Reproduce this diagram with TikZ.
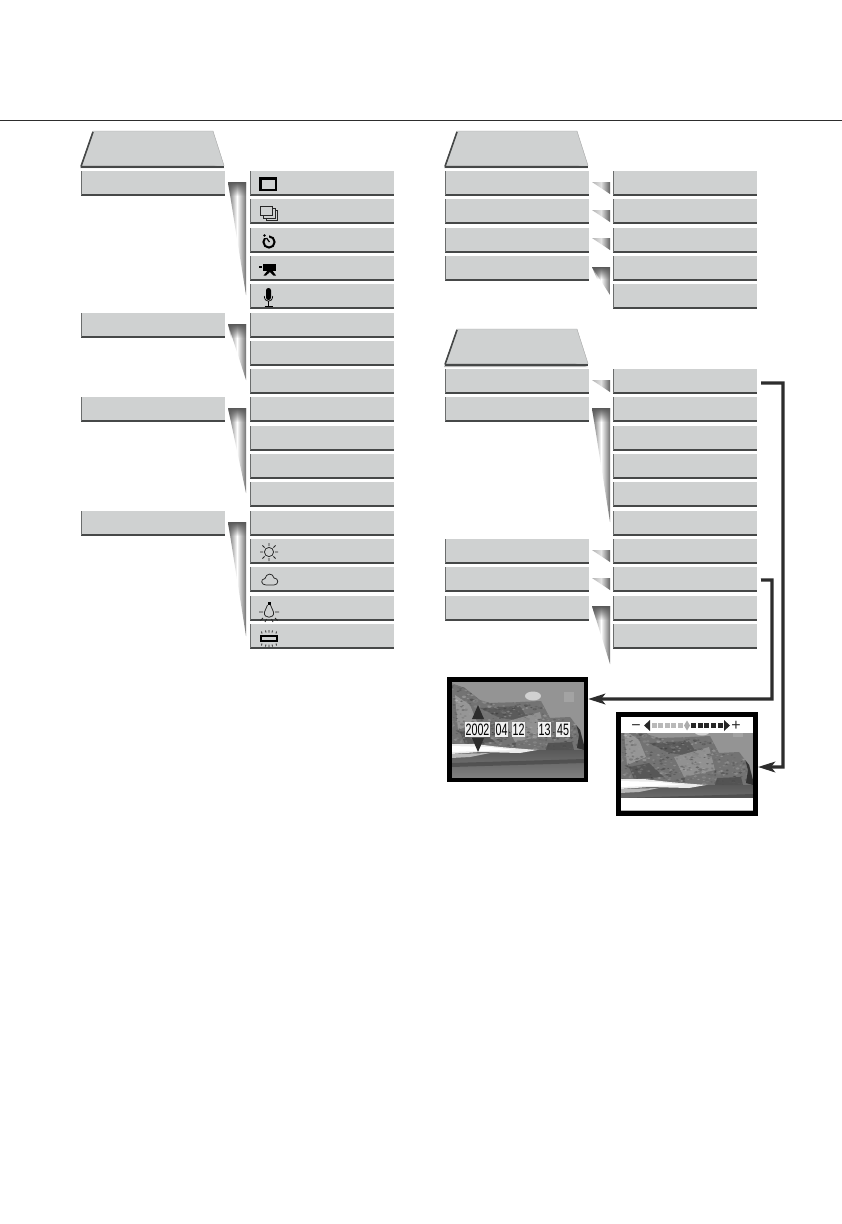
\documentclass[tikz,border=0pt]{standalone}
\usepackage{fontspec}
\setmainfont{Liberation Sans}
\usetikzlibrary{arrows.meta,shadows,fadings}
\definecolor{boxgray}{RGB}{207,209,209}
\definecolor{edgegray}{RGB}{70,72,72}
\definecolor{inkgray}{RGB}{45,45,45}
\tikzset{
	menubox/.style={anchor=north west, minimum width=143.6pt, minimum height=23.8pt, inner sep=0pt, fill=boxgray,
		drop shadow={shadow xshift=-0.6pt, shadow yshift=-1.3pt, fill=gray!70, opacity=1},
		path picture={\draw[edgegray, line width=2.4pt] (path picture bounding box.south west) -- (path picture bounding box.south east);
			\draw[edgegray!80, line width=2pt] (path picture bounding box.south west) -- (path picture bounding box.north west);}},
	tabface/.style={fill=boxgray, draw=gray!70, line width=0.4pt},
	tabshade/.style={fill=gray!55},
	tabedge/.style={draw=edgegray, line width=1.6pt},
	wedgeshade/.style={left color=black!60, right color=black!55, middle color=white},
	wedgesmall/.style={left color=black!30, right color=black!62, middle color=black!12},
	wedgetop/.style={fill=black!65, path fading=south},
	photoframe/.style={draw=black, line width=4.6pt, inner sep=0pt},
	datebox/.style={fill=gray!12, inner xsep=0.6pt, inner ysep=0pt, minimum height=15pt, font=\fontsize{16.5}{16.5}\selectfont},
	datedot/.style={inner sep=0pt, font=\fontsize{8}{8}\selectfont, text=black},
	signtext/.style={inner sep=0pt, font=\fontsize{16}{16}\selectfont, text=inkgray},
	linkline/.style={draw=inkgray, line width=3.3pt, -{Stealth[length=17pt,width=10.5pt,inset=4pt]}},
	iconline/.style={draw=black!85, line width=0.75pt},
}
\newcommand{\beachscene}{
	\fill[black!42] (451,681) rectangle (584,750);
	\fill[black!18] (533,696) ellipse (8 and 4.5);
	\fill[black!36] (564,692) rectangle (574,702);
	\begin{scope}
		\clip (451,683) -- (465,688) -- (480,700) -- (490,703) -- (520,702) -- (541,701) -- (550,718) -- (570,717) -- (580,730) -- (584,745) -- (584,750) -- (451,750) -- cycle;
		\fill[black!55] (451,681) rectangle (584,750);
		\fill[black!35, opacity=0.7] (455,695) -- (470,705) -- (477,722) -- (458,730) -- cycle;
		\fill[black!68, opacity=0.7] (480,708) -- (520,706) -- (530,722) -- (500,718) -- cycle;
		\fill[black!38, opacity=0.7] (505,722) -- (540,712) -- (546,735) -- (515,742) -- cycle;
		\fill[black!70, opacity=0.7] (460,732) -- (480,728) -- (495,742) -- (465,744) -- cycle;
		\pgfmathsetseed{11}
		\foreach \i in {1,...,900} {
			\pgfmathsetmacro{\spotx}{451+133*rnd}
			\pgfmathsetmacro{\spoty}{683+67*rnd}
			\pgfmathsetmacro{\spotv}{25+60*rnd}
			\pgfmathsetmacro{\spotw}{0.5+1.2*rnd}
			\fill[black!\spotv, opacity=0.4] (\spotx,\spoty) ellipse (\spotw+0.4 and \spotw*0.7);
		}
		\fill[black!80] (575,720) -- (581,728) -- (584,740) -- (584,750) -- (577,748) -- (579,735) -- cycle;
		\fill[black!70, opacity=0.8] (548,743) -- (572,742) -- (574,750) -- (546,750) -- cycle;
	\end{scope}
	\shade[top color=black!65, bottom color=black!50] (451,750) rectangle (584,778);
	\fill[black!8] (451,744) -- (475,744) -- (500,747) -- (537,750) -- (520,753) -- (480,752) -- (451,754) -- cycle;
	\fill[white] (451,746) -- (490,747) -- (515,750) -- (480,751) -- (451,752) -- cycle;
	\fill[black!28] (451,754) -- (490,753) -- (470,757) -- (451,758) -- cycle;
	\fill[black!72, opacity=0.7] (451,763) -- (584,759) -- (584,763) -- (451,767) -- cycle;
}
\begin{document}
\begin{tikzpicture}[x=1pt, y=-1pt]
	\useasboundingbox (0,0) rectangle (842,1224);
	\fill[white] (0,0) rectangle (842,1224);
	\draw[inkgray, line width=0.9pt] (0,120) -- (842,120);

	\fill[tabshade] (80,168) -- (92,133) -- (93,131) -- (224,168) -- cycle;
	\filldraw[tabface] (81,165.5) -- (93,131) -- (213,131) -- (224,165.5) -- cycle;
	\draw[tabedge] (81,166.5) -- (93,132); \draw[edgegray, line width=2pt] (81,166.5) -- (224,166.5);
	\draw (81,171) node[menubox] (lmenua) {};
	\draw (81,313) node[menubox] (lmenub) {};
	\draw (81,397) node[menubox] (lmenuc) {};
	\draw (81,511) node[menubox] (lmenud) {};

	\draw (250,171) node[menubox] (lopta) {};
	\draw (250,199) node[menubox] (loptb) {};
	\draw (250,228) node[menubox] (loptc) {};
	\draw (250,256) node[menubox] (loptd) {};
	\draw (250,284) node[menubox] (lopte) {};
	\draw (250,313) node[menubox] (loptf) {};
	\draw (250,341) node[menubox] (loptg) {};
	\draw (250,369) node[menubox] (lopth) {};
	\draw (250,397) node[menubox] (lopti) {};
	\draw (250,426) node[menubox] (loptj) {};
	\draw (250,454) node[menubox] (loptk) {};
	\draw (250,482) node[menubox] (loptl) {};
	\draw (250,511) node[menubox] (loptm) {};
	\draw (250,539) node[menubox] (loptn) {};
	\draw (250,567) node[menubox] (lopto) {};
	\draw (250,596) node[menubox] (loptp) {};
	\draw (250,624) node[menubox] (loptq) {};

	\shade[wedgeshade] (228,182) -- (246,182) -- (246,295) -- cycle;
	\fill[wedgetop] (228,182) -- (246,182) -- (246,196) -- (230,196) -- cycle;
	\shade[wedgeshade] (228,324) -- (246,324) -- (246,380) -- cycle;
	\fill[wedgetop] (228,324) -- (246,324) -- (246,338) -- (231,338) -- cycle;
	\shade[wedgeshade] (228,408) -- (246,408) -- (246,493) -- cycle;
	\fill[wedgetop] (228,408) -- (246,408) -- (246,422) -- (231,422) -- cycle;
	\shade[wedgeshade] (228,522) -- (246,522) -- (246,636) -- cycle;
	\fill[wedgetop] (228,522) -- (246,522) -- (246,536) -- (230,536) -- cycle;

	\fill[tabshade] (444,168) -- (457,131) -- (588,168) -- cycle;
	\filldraw[tabface] (445,165.5) -- (457,131) -- (577,131) -- (588,165.5) -- cycle;
	\draw[tabedge] (445,166.5) -- (457,132); \draw[edgegray, line width=2pt] (445,166.5) -- (588,166.5);
	\draw (445,171) node[menubox] (rmenua) {};
	\draw (445,199) node[menubox] (rmenub) {};
	\draw (445,228) node[menubox] (rmenuc) {};
	\draw (445,256) node[menubox] (rmenud) {};
	\draw (613,171) node[menubox] (ropta) {};
	\draw (613,199) node[menubox] (roptb) {};
	\draw (613,228) node[menubox] (roptc) {};
	\draw (613,256) node[menubox] (roptd) {};
	\draw (613,284) node[menubox] (ropte) {};

	\shade[wedgesmall] (592,182) -- (610,182) -- (610,194) -- cycle;
	\shade[wedgesmall] (592,210) -- (610,210) -- (610,222) -- cycle;
	\shade[wedgesmall] (592,238) -- (610,238) -- (610,250) -- cycle;
	\shade[wedgeshade] (592,267) -- (610,267) -- (610,295) -- cycle;
	\fill[wedgetop] (592,267) -- (610,267) -- (610,279) -- (597,279) -- cycle;

	\fill[tabshade] (444,367) -- (457,329) -- (588,367) -- cycle;
	\filldraw[tabface] (445,363.5) -- (457,329) -- (577,329) -- (588,363.5) -- cycle;
	\draw[tabedge] (445,364.5) -- (457,330); \draw[edgegray, line width=2pt] (445,364.5) -- (588,364.5);
	\draw (445,369) node[menubox] (smenua) {};
	\draw (445,397) node[menubox] (smenub) {};
	\draw (445,539) node[menubox] (smenuc) {};
	\draw (445,567) node[menubox] (smenud) {};
	\draw (445,596) node[menubox] (smenue) {};
	\draw (613,369) node[menubox] (sopta) {};
	\draw (613,397) node[menubox] (soptb) {};
	\draw (613,426) node[menubox] (soptc) {};
	\draw (613,454) node[menubox] (soptd) {};
	\draw (613,482) node[menubox] (sopte) {};
	\draw (613,511) node[menubox] (soptf) {};
	\draw (613,539) node[menubox] (soptg) {};
	\draw (613,567) node[menubox] (sopth) {};
	\draw (613,596) node[menubox] (sopti) {};
	\draw (613,624) node[menubox] (soptj) {};

	\shade[wedgesmall] (592,380) -- (610,380) -- (610,392) -- cycle;
	\shade[wedgeshade] (592,408) -- (610,408) -- (610,522) -- cycle;
	\fill[wedgetop] (592,408) -- (610,408) -- (610,422) -- (594,422) -- cycle;
	\shade[wedgesmall] (592,550) -- (610,550) -- (610,562) -- cycle;
	\shade[wedgesmall] (592,578) -- (610,578) -- (610,590) -- cycle;
	\shade[wedgeshade] (592,606) -- (610,606) -- (610,664) -- cycle;
	\fill[wedgetop] (592,606) -- (610,606) -- (610,620) -- (596,620) -- cycle;

	\draw[black, line width=2.4pt] (260.5,178.5) rectangle (276,190);
	\draw[iconline, fill=boxgray] (266,210) rectangle (277,220);
	\draw[iconline, fill=boxgray] (263,208) rectangle (275,218);
	\draw[iconline, fill=boxgray, line width=0.9pt] (260,206) rectangle (272.5,215.5);
	\draw[black, line width=2pt] (269,242) circle (5.6);
	\fill[boxgray] (263,232) rectangle (269,238);
	\fill[black] (264.5,235.5) circle (1.3);
	\draw[black, line width=1.2pt] (266.5,238) -- (269.5,242);
	\fill[black] (263,263.5) rectangle (276,270.5);
	\fill[black] (259,265.5) rectangle (261.5,268);
	\fill[black] (268,270) -- (272,270) -- (276,275.5) -- (273.5,275.5) -- (270,272) -- (266,275.5) -- (263.5,275.5) -- cycle;
	\fill[black, rounded corners=2.4pt] (266,288) rectangle (271,300);
	\draw[black, line width=0.7pt] (264.3,296) .. controls (264.3,303) and (272.7,303) .. (272.7,296);
	\draw[black, line width=0.9pt] (268.5,301) -- (268.5,306) (264.5,306) -- (272.5,306);

	\draw[iconline] (269,552) circle (4.6);
	\draw[iconline] (275,552) -- (278,552) (263,552) -- (260,552) (269,546) -- (269,543) (269,558) -- (269,561) (273.4,547.6) -- (275.6,545.4) (264.6,547.6) -- (262.4,545.4) (273.4,556.4) -- (275.6,558.6) (264.6,556.4) -- (262.4,558.6);
	\draw[iconline] (266,585) .. controls (261,585) and (260,579) .. (265,578.5) .. controls (266,573) and (273,572.5) .. (274,578) .. controls (279,578) and (279,585) .. (274,585) -- cycle;
	\fill[black] (267.5,602) rectangle (270.5,605);
	\draw[iconline] (267.5,605) -- (264.5,612) .. controls (263,619) and (275,619) .. (273.5,612) -- (270.5,605);
	\draw[iconline] (259,612) -- (263,612) (275,612) -- (279,612) (263,618) -- (260.5,620.5) (275,618) -- (277.5,620.5) (266.5,619) -- (265,622) (271.5,619) -- (273,622);
	\draw[black, line width=1.2pt] (261,636) rectangle (277,641);
	\draw[iconline] (262,633.5) -- (261.5,631.5) (266,632.5) -- (265.5,630.5) (269,632.5) -- (269,630) (272,632.5) -- (272.5,630.5) (276,633.5) -- (276.5,631.5) (262,643.5) -- (261.5,645.5) (266,644.5) -- (265.5,646.5) (269,644.5) -- (269,647) (272,644.5) -- (272.5,646.5) (276,643.5) -- (276.5,645.5);

	\begin{scope}
		\clip (451,681) rectangle (584,778);
		\beachscene
	\end{scope}
	\draw (517.5,729.5) node[photoframe, minimum width=136.6pt, minimum height=100.6pt] (photoa) {};
	\fill[inkgray] (472,719) -- (478,705) -- (484,719) -- cycle;
	\fill[inkgray] (472,738) -- (478,752) -- (484,738) -- cycle;
	\draw (477.5,729.5) node[datebox] (dateyear) {\scalebox{0.65}[1]{2002}};
	\draw (501.5,729.5) node[datebox] (datemonth) {\scalebox{0.65}[1]{04}};
	\draw (518.5,729.5) node[datebox] (dateday) {\scalebox{0.65}[1]{12}};
	\draw (544.5,729.5) node[datebox] (datehour) {\scalebox{0.65}[1]{13}};
	\draw (563,729.5) node[datebox] (dateminute) {\scalebox{0.65}[1]{45}};
	\draw (493,733) node[datedot] (dota) {.};
	\draw (510,733) node[datedot] (dotb) {.};
	\draw (554,733) node[datedot] (dotc) {.};

	\begin{scope}
		\clip (620,716) rectangle (754,812);
		\begin{scope}[shift={(169,35)}]
			\beachscene
		\end{scope}
		\fill[white] (620,716) rectangle (754,733);
		\fill[white] (620,798) rectangle (754,810);
		\fill[gray!60] (620,810) rectangle (754,812);
	\end{scope}
	\draw (687,764) node[photoframe, minimum width=137.4pt, minimum height=99.4pt] (photob) {};
	\draw (636,728) node[signtext] (signminus) {\textminus};
	\draw (736,725.5) node[signtext] (signplus) {+};
	\fill[black!85] (644,725.5) -- (650,720) -- (650,731) -- cycle;
	\fill[gray!55] (651.5,723) rectangle (656.5,728);
	\fill[gray!55] (658,723) rectangle (663,728);
	\fill[gray!55] (664.7,723) rectangle (669.7,728);
	\fill[gray!55] (671,723) rectangle (676,728);
	\fill[gray!55] (677.7,723) rectangle (682.7,728);
	\fill[gray!65] (684,725.5) -- (687,720.5) -- (690,725.5) -- (687,730.5) -- cycle;
	\fill[black!85] (691.2,723) rectangle (696.2,728);
	\fill[black!85] (697.7,723) rectangle (702.7,728);
	\fill[black!85] (704.2,723) rectangle (709.2,728);
	\fill[black!85] (710.8,723) rectangle (715.8,728);
	\fill[black!85] (717.5,723) rectangle (722.5,728);
	\fill[black!85] (730,725.5) -- (724,720) -- (724,731) -- cycle;

	\coordinate (benda) at (783,383);
	\coordinate (bendb) at (772,580);
	\draw[linkline, shorten <=4pt] ([yshift=-2pt]sopta.east) -- (benda) |- ([yshift=-3pt]photob.east);
	\draw[linkline, shorten <=4pt] ([yshift=-1pt]sopth.east) -- (bendb) |- ([yshift=30.5pt]photoa.east);
\end{tikzpicture}
\end{document}
